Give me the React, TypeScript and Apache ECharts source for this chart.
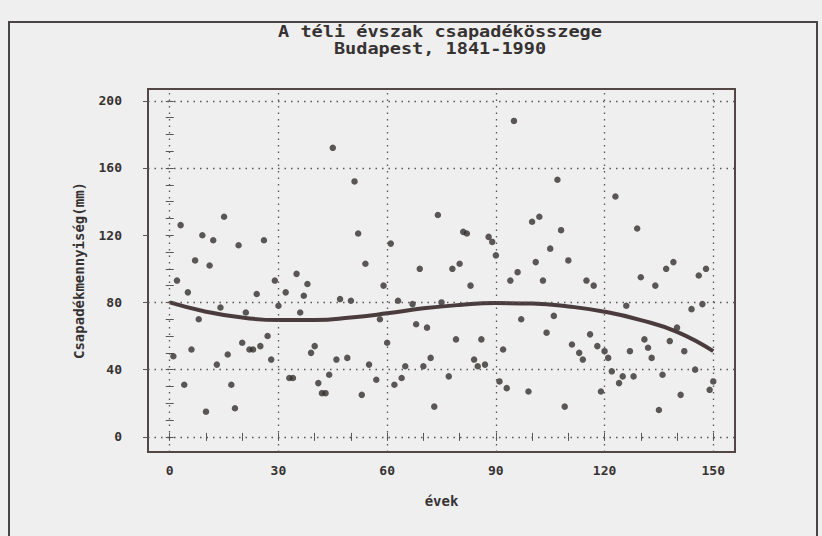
import React, { useEffect, useRef } from "react";
import * as echarts from "echarts";

// Year index (1841 = 1) and winter precipitation total (mm)
const years = [
  1, 2, 3, 4, 5, 6, 7, 8, 9, 10, 11, 12, 13, 14, 15, 16, 17, 18, 19, 20,
  21, 22, 23, 24, 25, 26, 27, 28, 29, 30, 32, 33, 34, 35, 36, 37, 38, 39, 40, 41,
  42, 43, 44, 45, 46, 47, 49, 50, 51, 52, 53, 54, 55, 57, 58, 59, 60, 61, 62, 63,
  64, 65, 67, 68, 69, 70, 71, 72, 73, 74, 75, 77, 78, 79, 80, 81, 82, 83, 84, 85,
  86, 87, 88, 89, 90, 91, 92, 93, 94, 95, 96, 97, 99, 100, 101, 102, 103, 104, 105, 106,
  107, 108, 109, 110, 111, 113, 114, 115, 116, 117, 118, 119, 120, 121, 122, 123, 124, 125, 126, 127,
  128, 129, 130, 131, 132, 133, 134, 135, 136, 137, 138, 139, 140, 141, 142, 144, 145, 146, 147, 148,
  149, 150,
];
const precipitation = [
  48, 93, 126, 31, 86, 52, 105, 70, 120, 15, 102, 117, 43, 77, 131, 49, 31, 17, 114, 56,
  74, 52, 52, 85, 54, 117, 60, 46, 93, 78, 86, 35, 35, 97, 74, 84, 91, 50, 54, 32,
  26, 26, 37, 172, 46, 82, 47, 81, 152, 121, 25, 103, 43, 34, 70, 90, 56, 115, 31, 81,
  35, 42, 79, 67, 100, 42, 65, 47, 18, 132, 80, 36, 100, 58, 103, 122, 121, 90, 46, 42,
  58, 43, 119, 116, 108, 33, 52, 29, 93, 188, 98, 70, 27, 128, 104, 131, 93, 62, 112, 72,
  153, 123, 18, 105, 55, 50, 46, 93, 61, 90, 54, 27, 51, 47, 39, 143, 32, 36, 78, 51,
  36, 124, 95, 58, 53, 47, 90, 16, 37, 100, 57, 104, 65, 25, 51, 76, 40, 96, 79, 100,
  28, 33,
];

// Fitted trend curve
const trendX = [0, 10, 20, 30, 40, 50, 60, 70, 80, 90, 100, 110, 120, 130, 140, 150];
const trendY = [80, 74.5, 71, 69.5, 69.5, 71, 73.5, 76.5, 78.5, 79.6, 79.3, 77.6, 74.5, 69.5, 62.5, 51];

const xLabels = [0, 30, 60, 90, 120, 150];
const xTicks = [0, 10, 20, 30, 40, 50, 60, 70, 80, 90, 100, 110, 120, 130, 140, 150];
const yLabels = [0, 40, 80, 120, 160, 200];
const yTicks = [0, 10, 20, 30, 40, 50, 60, 70, 80, 90, 100, 110, 120, 130, 140, 150, 160, 170, 180, 190, 200];
const gridX = [0, 30, 60, 90, 120, 150];
const gridY = [0, 40, 80, 160, 200];

const MONO = '"DejaVu Sans Mono", "Liberation Mono", monospace';
const INK = "#363232";
const FRAME = "#554646";

export default function App() {
  const ref = useRef<HTMLDivElement>(null);

  useEffect(() => {
    document.body.style.margin = "0";
    const chart = echarts.init(ref.current!, null, { renderer: "svg" });

    const tickStyle = { color: "#555", width: 1 };
    const labelStyle = {
      fontFamily: MONO,
      fontWeight: "bold" as const,
      fontSize: 13,
      color: INK,
    };
    const hiddenY = {
      type: "value",
      min: -9,
      max: 207,
      axisLine: { show: false },
      axisLabel: { show: false },
      splitLine: { show: false },
    };

    chart.setOption({
      animation: false,
      backgroundColor: "#efefef",
      grid: {
        left: 148,
        top: 89,
        right: 87,
        bottom: 84,
        show: true,
        borderColor: FRAME,
        borderWidth: 2,
        backgroundColor: "transparent",
      },
      xAxis: [
        {
          type: "value",
          position: "bottom",
          min: -6,
          max: 156,
          axisLine: { show: false },
          axisTick: { inside: true, length: 4, customValues: xTicks, lineStyle: tickStyle },
          axisLabel: { ...labelStyle, customValues: xLabels, margin: 12 },
          splitLine: { show: false },
          name: "évek",
          nameLocation: "middle",
          nameGap: 42,
          nameTextStyle: { fontFamily: MONO, fontWeight: "bold", fontSize: 14, color: INK },
        },
        {
          type: "value",
          position: "top",
          min: -6,
          max: 156,
          axisLine: { show: false },
          axisTick: { inside: true, length: 4, customValues: xTicks, lineStyle: tickStyle },
          axisLabel: { show: false },
          splitLine: { show: false },
        },
      ],
      yAxis: [
        {
          type: "value",
          position: "left",
          min: -9,
          max: 207,
          axisLine: { show: false },
          axisTick: { inside: true, length: 4, customValues: yTicks, lineStyle: tickStyle },
          axisLabel: { ...labelStyle, customValues: yLabels, margin: 26 },
          splitLine: { show: false },
          name: "Csapadékmennyiség(mm)",
          nameLocation: "middle",
          nameGap: 62,
          nameRotate: 90,
          nameTextStyle: { fontFamily: MONO, fontWeight: "bold", fontSize: 14, color: INK },
        },
        {
          ...hiddenY,
          position: "right",
          axisTick: { inside: true, length: 4, customValues: yTicks, lineStyle: tickStyle },
        },
        {
          ...hiddenY,
          position: "left",
          axisTick: { inside: false, length: 5, customValues: yLabels, lineStyle: tickStyle },
        },
      ],
      graphic: [
        {
          type: "rect",
          shape: { x: 9, y: 22, width: 808, height: 530 },
          style: { fill: "none", stroke: "#4a4444", lineWidth: 2 },
          silent: true,
        },
        {
          type: "text",
          x: 440,
          y: 31,
          scaleX: 1.16,
          style: {
            text: "A téli évszak csapadékösszege",
            font: `bold 16px ${MONO}`,
            fill: INK,
            align: "center",
            verticalAlign: "middle",
            textAlign: "center",
            textVerticalAlign: "middle",
          },
        },
        {
          type: "text",
          x: 440,
          y: 48,
          scaleX: 1.16,
          style: {
            text: "Budapest, 1841-1990",
            font: `bold 16px ${MONO}`,
            fill: INK,
            align: "center",
            verticalAlign: "middle",
            textAlign: "center",
            textVerticalAlign: "middle",
          },
        },
      ],
      series: [
        {
          type: "scatter",
          xAxisIndex: 0,
          yAxisIndex: 0,
          data: years.map((y, i) => [y, precipitation[i]]),
          symbol: "circle",
          symbolSize: 6.5,
          itemStyle: { color: "#343030" },
          silent: true,
          z: 3,
          markLine: {
            silent: true,
            symbol: ["none", "none"],
            label: { show: false },
            lineStyle: { color: "#5a5555", type: [1.5, 5], width: 1.3 },
            data: [
              ...gridX.map((v) => ({ xAxis: v })),
              ...gridY.map((v) => ({ yAxis: v })),
            ],
          },
        },
        {
          type: "line",
          xAxisIndex: 0,
          yAxisIndex: 0,
          data: trendX.map((x, i) => [x, trendY[i]]),
          smooth: 0.5,
          showSymbol: false,
          lineStyle: { color: "#4a3c3c", width: 4 },
          silent: true,
          z: 4,
        },
      ],
    });

    return () => chart.dispose();
  }, []);

  return <div ref={ref} style={{ width: 822, height: 536 }} />;
}
